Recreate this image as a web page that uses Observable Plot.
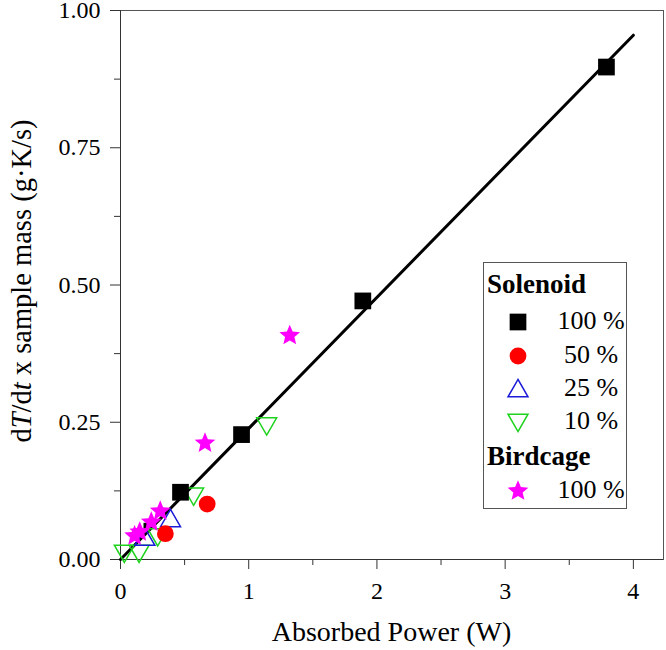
<!DOCTYPE html>
<html><head><meta charset="utf-8">
<script src="https://cdn.jsdelivr.net/npm/d3@7"></script>
<script src="https://cdn.jsdelivr.net/npm/@observablehq/plot@0.6"></script>
<style>
body{margin:0;background:#fff}
#wrap{position:relative;width:666px;height:650px;font-family:"Liberation Serif",serif}
#legend{position:absolute;left:483px;top:262px;width:144px;height:247px;border:1px solid #555;background:#fff;box-sizing:border-box}
.lhead{position:absolute;left:3px;font-weight:bold;font-size:27px;line-height:30px;white-space:nowrap}
.ltxt{position:absolute;left:64px;width:86px;text-align:center;font-size:26px;line-height:30px;white-space:nowrap}
.lsym{position:absolute;left:21px}
</style>
</head><body><div id="wrap"></div>
<script>
// ---- data ----
const sol100X = [0.468, 0.944, 1.89, 3.79];
const sol100Y = [0.1225, 0.2275, 0.471, 0.897];
const sol100HiddenX = [0.20];
const sol100HiddenY = [0.062];
const sol50X = [0.35, 0.676];
const sol50Y = [0.047, 0.101];
const sol25X = [0.19, 0.39];
const sol25Y = [0.040, 0.074];
const sol10X = [0.03, 0.145, 0.29, 0.57, 1.14];
const sol10Y = [0.012, 0.012, 0.042, 0.116, 0.244];
const bird100X = [0.11, 0.15, 0.24, 0.31, 0.659, 1.32];
const bird100Y = [0.043, 0.050, 0.068, 0.088, 0.212, 0.408];
const fitX = [0, 4];
const fitY = [0, 0.955];
const xTicks = [0, 1, 2, 3, 4];
const xMinor = [0.5, 1.5, 2.5, 3.5];
const yTicks = [0, 0.25, 0.5, 0.75, 1.0];
const yMinor = [0.125, 0.375, 0.625, 0.875];
const legendGroups = ["Solenoid", "Birdcage"];
const legendLabels = ["100 %", "50 %", "25 %", "10 %", "100 %"];

// ---- symbols ----
const rOf = s => Math.sqrt(s / Math.PI);
const triUp = {draw(c, s){const r = rOf(s), a = r*1.35, h = a*Math.sqrt(3);
  c.moveTo(0, -h*0.55); c.lineTo(a, h*0.45); c.lineTo(-a, h*0.45); c.closePath();}};
const triDown = {draw(c, s){const r = rOf(s), a = r*1.35, h = a*Math.sqrt(3);
  c.moveTo(0, h*0.55); c.lineTo(a, -h*0.45); c.lineTo(-a, -h*0.45); c.closePath();}};
const star = {draw(c, s){const R = rOf(s)*1.45, ri = R*0.45;
  for (let i = 0; i < 10; i++){const rr = i%2 ? ri : R; const t = -Math.PI/2 + i*Math.PI/5;
    const x = rr*Math.cos(t), y = rr*Math.sin(t); i ? c.lineTo(x, y) : c.moveTo(x, y);} c.closePath();}};
const square = {draw(c, s){const h = rOf(s)*0.88; c.rect(-h, -h, 2*h, 2*h);}};
const circle = {draw(c, s){const r = rOf(s); c.moveTo(r, 0); c.arc(0, 0, r, 0, 2*Math.PI);}};

const pts = (X, Y) => X.map((x, i) => ({x, y: Y[i]}));
const fit = pts(fitX, fitY);

const W = 666, H = 650, ML = 120, MR = 3, MT = 10, MB = 91;
const plot = Plot.plot({
  width: W, height: H, marginLeft: ML, marginRight: MR, marginTop: MT, marginBottom: MB,
  x: {domain: [0, 4.235]},
  y: {domain: [0, 1]},
  style: {fontFamily: "Liberation Serif, serif", fontSize: "24px", color: "#000", background: "#fff", overflow: "visible"},
  marks: [
    Plot.frame({stroke: "#555", strokeWidth: 1}),
    Plot.axisX({ticks: xTicks, tickSize: 10, tickPadding: 12, tickFormat: d => String(d), label: null, stroke: "#333"}),
    Plot.axisX({ticks: xMinor, tickSize: 6, tickFormat: () => "", label: null, stroke: "#333"}),
    Plot.axisY({ticks: yTicks, tickSize: 10, tickPadding: 10, tickFormat: d3.format(".2f"), label: null, stroke: "#333"}),
    Plot.axisY({ticks: yMinor, tickSize: 6, tickFormat: () => "", label: null, stroke: "#333"}),
    Plot.ruleY([0], {stroke: "#333"}),
    Plot.ruleX([0], {stroke: "#333"}),
    Plot.line(fit, {x: "x", y: "y", stroke: "#000", strokeWidth: 3}),
    Plot.dot(pts(sol10X, sol10Y), {x: "x", y: "y", symbol: triDown, r: 7.4, stroke: "#1ed21e", strokeWidth: 1.5, fill: "none"}),
    Plot.dot(pts(sol25X, sol25Y), {x: "x", y: "y", symbol: triUp, r: 7.4, stroke: "#1a1ad8", strokeWidth: 1.5, fill: "none"}),
    Plot.dot(pts(sol50X, sol50Y), {x: "x", y: "y", symbol: circle, r: 8.4, fill: "#ff0000", stroke: "none"}),
    Plot.dot(pts(sol100HiddenX, sol100HiddenY), {x: "x", y: "y", symbol: square, r: 3, fill: "#000", stroke: "none"}),
    Plot.dot(pts(sol100X, sol100Y), {x: "x", y: "y", symbol: square, r: 9.5, fill: "#000", stroke: "none"}),
    Plot.dot(pts(bird100X, bird100Y), {x: "x", y: "y", symbol: star, r: 7.5, fill: "#ff00ff", stroke: "none"})
  ]
});
const wrap = document.getElementById("wrap");
wrap.appendChild(plot);

// axis titles
const svg = d3.select(plot);
svg.append("text").attr("x", (ML + W - MR)/2).attr("y", 641).attr("text-anchor", "middle")
  .attr("font-size", 28).attr("font-family", "Liberation Serif, serif").attr("fill", "#000")
  .text("Absorbed Power (W)");
const yl = svg.append("text").attr("transform", `translate(31,281) rotate(-90)`)
  .attr("text-anchor", "middle").attr("font-size", 28.5).attr("font-family", "Liberation Serif, serif").attr("fill", "#000");
yl.append("tspan").text("d");
yl.append("tspan").attr("font-style", "italic").text("T");
yl.append("tspan").text("/d");
yl.append("tspan").attr("font-style", "italic").text("t");
yl.append("tspan").text(" x sample mass (g\u00B7K/s)");

// legend
const leg = document.createElement("div");
leg.id = "legend";
wrap.appendChild(leg);
const symDefs = [
  {sym: square, r: 9.5, fill: "#000", stroke: "none"},
  {sym: circle, r: 8.4, fill: "#ff0000", stroke: "none"},
  {sym: triUp, r: 7.4, fill: "none", stroke: "#1a1ad8"},
  {sym: triDown, r: 7.4, fill: "none", stroke: "#1ed21e"},
  {sym: star, r: 7.5, fill: "#ff00ff", stroke: "none"}
];
function addHead(t, cy){const d = document.createElement("div"); d.className = "lhead"; d.style.top = (cy - 16) + "px"; d.textContent = t; leg.appendChild(d);}
function addRow(i, cy){
  const s = symDefs[i];
  const ns = "http://www.w3.org/2000/svg";
  const sv = document.createElementNS(ns, "svg"); sv.setAttribute("width", 26); sv.setAttribute("height", 26);
  sv.setAttribute("class", "lsym"); sv.style.top = (cy - 13) + "px";
  const p = document.createElementNS(ns, "path");
  p.setAttribute("d", d3.symbol(s.sym, Math.PI*s.r*s.r)());
  p.setAttribute("transform", "translate(13,13)");
  p.setAttribute("fill", s.fill); p.setAttribute("stroke", s.stroke); p.setAttribute("stroke-width", 1.5);
  sv.appendChild(p); leg.appendChild(sv);
  const t = document.createElement("div"); t.className = "ltxt"; t.style.top = (cy - 16) + "px"; t.textContent = legendLabels[i]; leg.appendChild(t);
}
const headCY = [22, 194];
const rowCY = [59, 93, 126, 159, 228];
addHead(legendGroups[0], headCY[0]);
for (let i = 0; i < 4; i++) addRow(i, rowCY[i]);
addHead(legendGroups[1], headCY[1]);
addRow(4, rowCY[4]);
</script>
</body></html>
